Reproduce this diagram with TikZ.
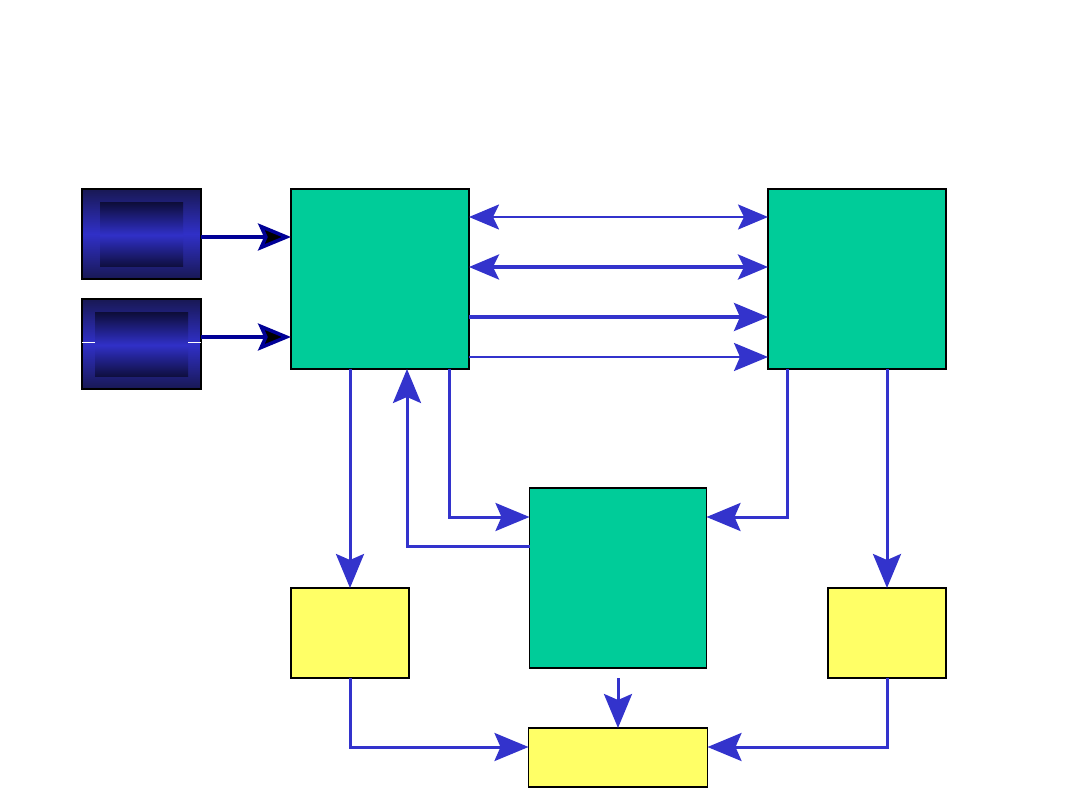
\documentclass[tikz,border=0pt]{standalone}
\usepackage{xcolor}
\definecolor{mintgreen}{RGB}{0,204,153}
\definecolor{paleyellow}{RGB}{255,255,102}
\definecolor{linkblue}{RGB}{51,51,204}
\definecolor{navyline}{RGB}{0,0,150}
\definecolor{nightblue}{RGB}{24,24,84}
\definecolor{deepblue}{RGB}{14,14,60}
\definecolor{brightblue}{RGB}{48,48,200}
\usepackage{tikz}
\usetikzlibrary{positioning, arrows.meta, calc}

\begin{document}
\begin{tikzpicture}[x=1pt, y=-1pt,
    greenbox/.style={draw=black, line width=1.8pt, fill=mintgreen, outer sep=0pt,
      minimum width=178pt, minimum height=180pt},
    yellowbox/.style={draw=black, line width=1.8pt, fill=paleyellow, outer sep=0pt},
    srcbox/.style={draw=black, line width=1.8pt, outer sep=0pt,
      top color=nightblue, bottom color=nightblue, middle color=brightblue,
      minimum width=119pt, minimum height=90pt},
    innerbox/.style={top color=deepblue, bottom color=deepblue, middle color=brightblue},
    link/.style={draw=linkblue, line width=3pt, -{Stealth[length=34pt, width=28pt, inset=6pt]}},
    twoway/.style={draw=linkblue, line width=3pt,
      {Stealth[length=30pt, width=25pt, inset=6pt]}-{Stealth[length=30pt, width=25pt, inset=6pt]}},
    feed/.style={draw=navyline, line width=3.5pt,
      -{Stealth[length=33pt, width=27pt, inset=6pt, fill=black]}}]
    \useasboundingbox (0,0) rectangle (1080,810);

    % sources
    \node[srcbox] (src1) at (141.5,234) {};
    \node[srcbox] (src2) at (141.5,344) {};
    \shade[innerbox] ($(src1.north west)+(18,14)$) rectangle ($(src1.south east)+(-18,-12)$);
    \shade[innerbox] ($(src2.north west)+(13,14)$) rectangle ($(src2.south east)+(-13,-12)$);
    \draw[white, line width=0.8pt] (src2.west |- 0,342) -- ++(13,0);
    \draw[white, line width=0.8pt] (src2.east |- 0,342) -- ++(-13,0);

    % green blocks
    \node[greenbox] (A) at (380,279) {};
    \node[greenbox] (B) at (857,279) {};
    \node[greenbox, minimum width=177pt] (C) at (618,578) {};

    % yellow blocks
    \node[yellowbox, minimum width=118pt, minimum height=90pt] (YL) at (350,633) {};
    \node[yellowbox, minimum width=118pt, minimum height=90pt] (YR) at (887,633) {};
    \node[yellowbox, minimum width=179pt, minimum height=59pt] (YB) at (618,757.5) {};

    % feeds into A
    \draw[feed] (src1.east |- 0,237) -- (A.west |- 0,237);
    \draw[feed] (src2.east |- 0,337) -- (A.west |- 0,337);

    % A to B
    \draw[twoway, line width=2.5pt] (A.east |- 0,217) -- (B.west |- 0,217);
    \draw[twoway, line width=3.5pt] (A.east |- 0,267) -- (B.west |- 0,267);
    \draw[link, line width=3.5pt] (A.east |- 0,317) -- (B.west |- 0,317);
    \draw[link, line width=2.5pt] (A.east |- 0,357) -- (B.west |- 0,357);

    % around C
    \draw[link] (A.south -| 449,0) |- (C.west |- 0,517);
    \draw[link] (B.south -| 787,0) |- (C.east |- 0,517);
    \draw[link] (C.west |- 0,546) -| (A.south -| 407,0);
    \draw[link] ($(C.south)+(0,10)$) -- (YB.north);

    % down to yellow blocks
    \draw[link] (A.south -| YL.north) -- (YL.north);
    \draw[link] (B.south -| YR.north) -- (YR.north);
    \draw[link] (YL.south) |- (YB.west |- 0,747);
    \draw[link] (YR.south) |- (YB.east |- 0,747);
  \end{tikzpicture}
\end{document}
